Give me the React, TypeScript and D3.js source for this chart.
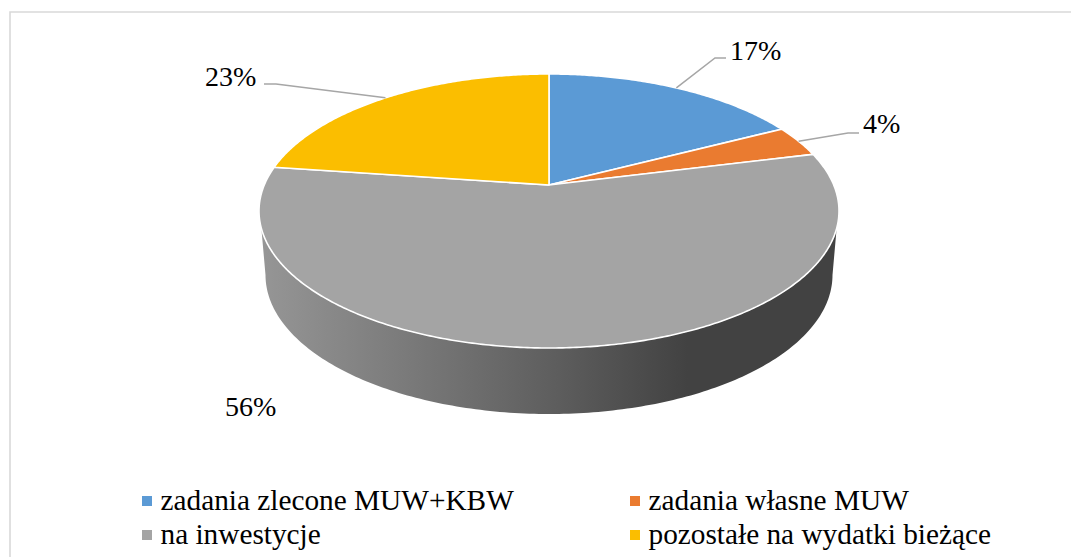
import React from "react";
import * as d3 from "d3";

const categories = ["zadania zlecone MUW+KBW", "zadania własne MUW", "na inwestycje", "pozostałe na wydatki bieżące"];
const shares = [17.4, 3.7, 56.1, 22.8];
const colors = ["#5b9ad5", "#ea7b30", "#a4a4a4", "#fbbe00"];

const W = 1071, H = 557;
const CX = 549;
const APEX_Y = 185, FAR_Y = 74, NEAR_Y = 348;
// Perspective of the tilted disc: unit circle -> screen
const K = ((2 * APEX_Y) - FAR_Y - NEAR_Y) / (NEAR_Y - FAR_Y);
const A = NEAR_Y * (1 + K) - APEX_Y;
const RIM = 290 * Math.sqrt(1 - K * K);
const project = (a: number): [number, number] => {
  const u = Math.sin(a), v = -Math.cos(a), w = 1 + K * v;
  return [CX + (RIM * u) / w, (A * v + APEX_Y) / w];
};
const apex: [number, number] = [CX, APEX_Y];
const line = d3.line<[number, number]>();

const pieGen = d3.pie<number>().sort(null).value((d) => d);
const arcs = pieGen(shares);

const sliceOutline = (s: number, e: number) => {
  const n = Math.max(4, Math.ceil((e - s) / 0.01));
  const pts = d3.range(n + 1).map((i) => project(s + ((e - s) * i) / n));
  return line([apex, ...pts])! + "Z";
};

// Side wall: top rim ellipse, bottom rim ellipse
const TOP = { cy: 211, rx: 290, ry: 137 };
const BOT = { cy: 275, rx: 283.5, ry: 139 };
const WALL_Y = 228.5;
const wallPath = (() => {
  const tA = Math.asin((WALL_Y - TOP.cy) / TOP.ry);
  const topPt = (t: number): [number, number] => [CX + TOP.rx * Math.cos(t), TOP.cy + TOP.ry * Math.sin(t)];
  const botPt = (t: number): [number, number] => [CX + BOT.rx * Math.cos(t), BOT.cy + BOT.ry * Math.sin(t)];
  const bottom = d3.range(0, 181).map((i) => botPt((Math.PI * i) / 180));
  const steps = 180;
  const upper = d3.range(steps + 1).map((i) => topPt(Math.PI - tA - ((Math.PI - 2 * tA) * i) / steps));
  return line([...bottom, ...upper])! + "Z";
})();

const labelLayout = [
  { x: 730, y: 60, leader: [[715, 58], [726, 58]] },
  { x: 863, y: 133, leader: [[848, 133], [859, 133]] },
  { x: 225, y: 416, leader: null },
  { x: 205, y: 86, leader: [[276, 84], [264, 84]] },
];
const legendLayout = [
  { x: 142, y: 496 },
  { x: 630, y: 496 },
  { x: 142, y: 530 },
  { x: 630, y: 530 },
];
const FONT = "'Liberation Serif', 'Times New Roman', serif";

export default function App() {
  return (
    <svg width={W} height={H} style={{ position: "absolute", left: 0, top: 0, display: "block", background: "#fff" }} fontFamily={FONT}>
      <defs>
        <linearGradient id="wall" gradientUnits="userSpaceOnUse" x1={260} x2={838} y1={0} y2={0}>
          <stop offset="0" stopColor="#969696" />
          <stop offset="0.5" stopColor="#5f5f5f" />
          <stop offset="0.74" stopColor="#424242" />
          <stop offset="1" stopColor="#424242" />
        </linearGradient>
      </defs>
      <path d={`M10,${H}V12H${W}`} fill="none" stroke="#d9d9d9" strokeWidth={1.6} />
      <path d={wallPath} fill="url(#wall)" />
      {arcs.map((a, i) => (
        <path key={categories[i]} d={sliceOutline(a.startAngle, a.endAngle)} fill={colors[i]} stroke="#fff" strokeWidth={1.6} strokeLinejoin="round" />
      ))}
      {arcs.map((a, i) => {
        const l = labelLayout[i];
        if (!l.leader) return null;
        const rim = project((a.startAngle + a.endAngle) / 2);
        const pts = [rim, ...l.leader] as [number, number][];
        return <path key={i} d={line(pts)!} fill="none" stroke="#a6a6a6" strokeWidth={1.5} />;
      })}
      {shares.map((s, i) => (
        <text key={i} x={labelLayout[i].x} y={labelLayout[i].y} fontSize={28} fill="#000">{`${Math.round(s)}%`}</text>
      ))}
      {categories.map((c, i) => (
        <g key={c}>
          <rect x={legendLayout[i].x} y={legendLayout[i].y} width={10} height={10} fill={colors[i]} />
          <text x={legendLayout[i].x + 18.5} y={legendLayout[i].y + 14} fontSize={29.3} fill="#000">{c}</text>
        </g>
      ))}
    </svg>
  );
}
